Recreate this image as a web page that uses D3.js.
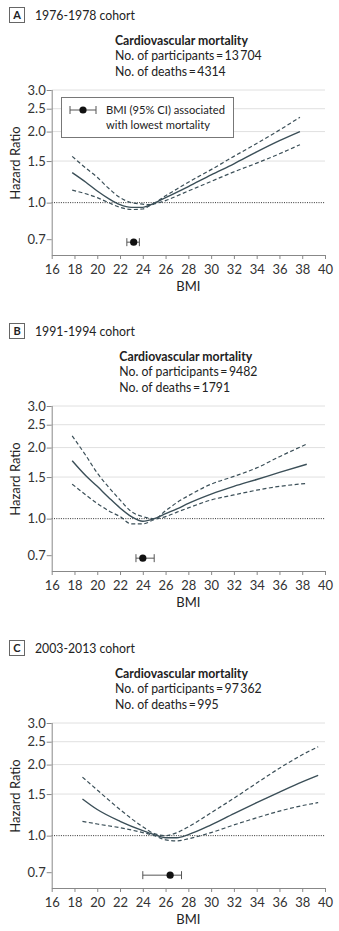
<!DOCTYPE html>
<html>
<head>
<meta charset="utf-8">
<script src="https://cdn.jsdelivr.net/npm/d3@7"></script>
<style>
  body { margin: 0; background: #fff; }
  svg { display: block; font-family: Lato, "Open Sans", sans-serif; }
</style>
</head>
<body>
<svg id="chart" width="339" height="931"></svg>
<script>
// panel letters, cohort titles and counts
var letters = ['A', 'B', 'C'];
var cohorts = ['1976-1978 cohort', '1991-1994 cohort', '2003-2013 cohort'];
var participants = ['13\u2009704', '9482', '97\u2009362'];
var deaths = ['4314', '1791', '995'];

// axis ticks
var xTicks = [16, 18, 20, 22, 24, 26, 28, 30, 32, 34, 36, 38, 40];
var yTicks = [0.7, 1.0, 1.5, 2.0, 2.5, 3.0];
var gridTicks = [1.5, 2.0, 2.5, 3.0];

// spline estimates
var bmiA = [17.8, 19, 20, 21, 22, 23, 24, 24.6, 26, 28, 30, 32, 34, 36, 37.8];
var hrA  = [1.34, 1.22, 1.12, 1.04, 0.98, 0.955, 0.955, 0.975, 1.05, 1.17, 1.31, 1.46, 1.64, 1.83, 2.0];
var hiA  = [1.57, 1.40, 1.28, 1.15, 1.05, 1.0, 0.985, 0.98, 1.07, 1.22, 1.38, 1.57, 1.78, 2.03, 2.30];
var loA  = [1.13, 1.09, 1.05, 1.0, 0.955, 0.935, 0.94, 0.97, 1.02, 1.12, 1.23, 1.35, 1.47, 1.61, 1.76];

var bmiB = [17.8, 19, 20, 21, 22, 23, 24, 25, 26, 27, 28, 30, 32, 34, 36, 38.4];
var hrB  = [1.76, 1.52, 1.37, 1.23, 1.11, 1.02, 0.975, 1.0, 1.05, 1.10, 1.16, 1.27, 1.37, 1.465, 1.57, 1.70];
var hiB  = [2.24, 1.85, 1.56, 1.36, 1.20, 1.07, 1.02, 1.0, 1.08, 1.17, 1.25, 1.40, 1.51, 1.64, 1.83, 2.07];
var loB  = [1.40, 1.26, 1.16, 1.08, 1.02, 0.95, 0.95, 0.99, 1.02, 1.065, 1.11, 1.20, 1.26, 1.32, 1.37, 1.41];

var bmiC = [18.7, 20, 22, 24, 25, 26, 27, 28, 30, 32, 34, 36, 38, 39.4];
var hrC  = [1.43, 1.29, 1.15, 1.05, 1.01, 0.98, 0.98, 1.01, 1.11, 1.24, 1.38, 1.53, 1.69, 1.80];
var hiC  = [1.77, 1.56, 1.29, 1.09, 1.02, 1.0, 1.03, 1.09, 1.25, 1.44, 1.67, 1.93, 2.20, 2.38];
var loC  = [1.15, 1.12, 1.08, 1.03, 1.0, 0.96, 0.95, 0.97, 1.03, 1.11, 1.19, 1.27, 1.34, 1.38];

// BMI with lowest mortality and its 95% CI
var optBmi = [23.2, 24.0, 26.4];
var optLo  = [22.6, 23.4, 24.0];
var optHi  = [23.7, 25.0, 27.4];
var optHr  = 0.68;

var panels = [
    {bmi: bmiA, hr: hrA, hi: hiA, lo: loA},
    {bmi: bmiB, hr: hrB, hi: hiB, lo: loB},
    {bmi: bmiC, hr: hrC, hi: hiC, lo: loC}
];
var panelTops = [0, 316, 633];

var svg = d3.select('#chart');
var lineColor = '#3b4f58';

var x = d3.scaleLinear().domain([16, 40]).range([51.7, 325]);
var y = d3.scaleLog().domain([0.6, 3.0]).range([255, 90]);

// the original face is a narrow one, so squeeze Lato sideways to the width seen
function squeeze(sel, px, py, sx){
    sel.attr('transform', 'translate(' + px + ',' + py + ') scale(' + sx.toFixed(3) + ',1)');
}

var headScale = null, titleScale = null;

panels.forEach(function(p, i){
    var g = svg.append('g').attr('transform', 'translate(0,' + panelTops[i] + ')');

    // letter box + cohort title
    g.append('rect')
        .attr('x', 9.5).attr('y', 7.5).attr('width', 15).attr('height', 15)
        .attr('fill', 'none').attr('stroke', '#666').attr('stroke-width', 1);
    g.append('text')
        .attr('x', 17).attr('y', 19.3)
        .attr('text-anchor', 'middle')
        .attr('font-size', 11).attr('font-weight', 'bold').attr('fill', '#222')
        .text(letters[i]);
    var ct = g.append('text')
        .attr('font-size', 14).attr('fill', '#222')
        .text(cohorts[i]);
    if (titleScale === null) titleScale = 100 / ct.node().getComputedTextLength();
    squeeze(ct, 35, 20, titleScale);

    // header block, left aligned lines centred as a block
    var lines = [
        {t: 'Cardiovascular mortality', b: true},
        {t: 'No. of participants\u2009=\u2009' + participants[i], b: false},
        {t: 'No. of deaths\u2009=\u2009' + deaths[i], b: false}
    ];
    var texts = g.selectAll('.head').data(lines).enter().append('text')
        .attr('class', 'head')
        .attr('font-size', 13)
        .attr('font-weight', function(d){ return d.b ? 'bold' : 'normal'; })
        .attr('fill', '#222')
        .text(function(d){ return d.t; });
    if (headScale === null) headScale = 147 / texts.nodes()[1].getComputedTextLength();
    var maxW = 0;
    texts.each(function(){ maxW = Math.max(maxW, this.getComputedTextLength() * headScale); });
    texts.each(function(d, k){
        squeeze(d3.select(this), 188.5 - maxW / 2, 45 + k * 15.3, headScale);
    });

    // grid
    g.selectAll('.grid').data(gridTicks).enter().append('line')
        .attr('x1', x(16)).attr('x2', x(40))
        .attr('y1', function(d){ return y(d); })
        .attr('y2', function(d){ return y(d); })
        .attr('stroke', '#e0e0e0').attr('stroke-width', 1);
    g.append('line')
        .attr('x1', x(16)).attr('x2', x(40))
        .attr('y1', y(1)).attr('y2', y(1))
        .attr('stroke', '#333').attr('stroke-width', 1)
        .attr('stroke-dasharray', '1,1.3');

    // axes
    var yAxis = g.append('g')
        .attr('transform', 'translate(' + x(16) + ',0)')
        .call(d3.axisLeft(y).tickValues(yTicks).tickFormat(d3.format('.1f')).tickSize(5).tickSizeOuter(0));
    var xAxis = g.append('g')
        .attr('transform', 'translate(0,' + y(0.6) + ')')
        .call(d3.axisBottom(x).tickValues(xTicks).tickFormat(d3.format('d')).tickSize(4).tickSizeOuter(0));
    [xAxis, yAxis].forEach(function(a){
        a.select('.domain').attr('stroke', '#888');
        a.selectAll('.tick line').attr('stroke', '#888');
        a.selectAll('.tick text')
            .attr('font-family', 'Lato, sans-serif')
            .attr('font-size', 13).attr('fill', '#333');
    });
    yAxis.select('.domain').attr('d', 'M0.5,' + y(3.0) + 'V' + (y(0.6) + 0.5));
    xAxis.selectAll('.tick text').attr('dy', '0.95em');
    yAxis.selectAll('.tick text').attr('x', -6);

    g.append('text')
        .attr('x', x(28)).attr('y', 291)
        .attr('text-anchor', 'middle')
        .attr('font-size', 13).attr('fill', '#222')
        .text('BMI');
    g.append('text')
        .attr('transform', 'translate(20,163) rotate(-90)')
        .attr('text-anchor', 'middle')
        .attr('font-size', 13).attr('fill', '#222')
        .text('Hazard Ratio');

    // curves
    var mk = function(vals){
        return d3.line()
            .x(function(d, k){ return x(p.bmi[k]); })
            .y(function(d){ return y(d); })
            .curve(d3.curveMonotoneX)(vals);
    };
    g.append('path').attr('d', mk(p.hi))
        .attr('fill', 'none').attr('stroke', lineColor).attr('stroke-width', 1.2)
        .attr('stroke-dasharray', '4,2.5');
    g.append('path').attr('d', mk(p.lo))
        .attr('fill', 'none').attr('stroke', lineColor).attr('stroke-width', 1.2)
        .attr('stroke-dasharray', '4,2.5');
    g.append('path').attr('d', mk(p.hr))
        .attr('fill', 'none').attr('stroke', lineColor).attr('stroke-width', 1.4);

    // optimum BMI marker
    var py = y(optHr);
    g.append('line')
        .attr('x1', x(optLo[i])).attr('x2', x(optHi[i]))
        .attr('y1', py).attr('y2', py)
        .attr('stroke', '#555').attr('stroke-width', 1);
    [optLo[i], optHi[i]].forEach(function(v){
        g.append('line')
            .attr('x1', x(v)).attr('x2', x(v))
            .attr('y1', py - 4).attr('y2', py + 4)
            .attr('stroke', '#555').attr('stroke-width', 1);
    });
    g.append('circle')
        .attr('cx', x(optBmi[i])).attr('cy', py).attr('r', 3.6)
        .attr('fill', '#111');

    // legend only in first panel
    if (i === 0) {
        var lg = g.append('g');
        lg.append('rect')
            .attr('x', 61.5).attr('y', 97.5).attr('width', 172).attr('height', 40)
            .attr('fill', '#fff').attr('stroke', '#777');
        lg.append('line').attr('x1', 70).attr('x2', 96).attr('y1', 110).attr('y2', 110)
            .attr('stroke', '#555');
        [70, 96].forEach(function(v){
            lg.append('line').attr('x1', v).attr('x2', v).attr('y1', 106).attr('y2', 114)
                .attr('stroke', '#555');
        });
        lg.append('circle').attr('cx', 83).attr('cy', 110).attr('r', 3.6).attr('fill', '#111');
        var l1 = lg.append('text')
            .attr('font-size', 11.5).attr('fill', '#222')
            .text('BMI (95% CI) associated');
        var ls = 119 / l1.node().getComputedTextLength();
        squeeze(l1, 106, 114, ls);
        var l2 = lg.append('text')
            .attr('font-size', 11.5).attr('fill', '#222')
            .text('with lowest mortality');
        squeeze(l2, 106, 128.5, ls);
    }
});
</script>
</body>
</html>
